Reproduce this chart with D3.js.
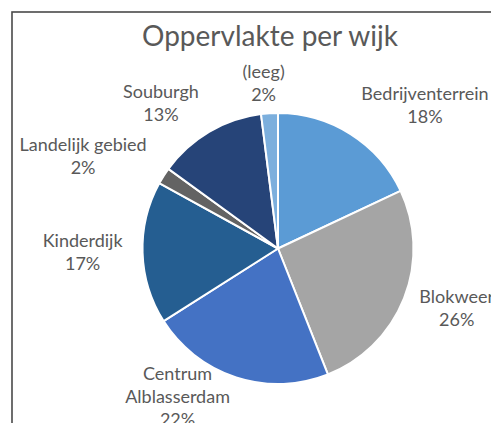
<!DOCTYPE html>
<html>
<head>
<meta charset="utf-8">
<script src="https://cdn.jsdelivr.net/npm/d3@7"></script>
<style>
  html, body { margin: 0; padding: 0; background: #fff; }
  svg { display: block; font-family: Lato, "Open Sans", sans-serif; }
</style>
</head>
<body>
<div id="chart"></div>
<script>
// dati del grafico
const title = 'Oppervlakte per wijk';
const wijken = ['Bedrijventerrein', 'Blokweer', 'Centrum Alblasserdam', 'Kinderdijk', 'Landelijk gebied', 'Souburgh', '(leeg)'];
const aandeel = [18, 26, 22, 17, 2, 13, 2];
const kleuren = ['#5b9bd5', '#a5a5a5', '#4472c4', '#255e91', '#636363', '#264478', '#7cafdd'];

const width = 491;
const height = 423;

// area del grafico (tagliata a destra e in basso come nello screenshot)
const area = { left: 12, top: 12, right: 494, bottom: 433 };
const cx = 278, cy = 248.5, radius = 135.5;
const lineH = 23;

const svg = d3.select('#chart').append('svg')
    .attr('width', width)
    .attr('height', height);

svg.append('rect')
    .attr('x', area.left)
    .attr('y', area.top)
    .attr('width', 520)
    .attr('height', 520)
    .attr('fill', '#fff')
    .attr('stroke', '#4a4a4a')
    .attr('stroke-width', 1.6);

svg.append('text')
    .attr('x', 270)
    .attr('y', 46)
    .attr('text-anchor', 'middle')
    .attr('fill', '#595959')
    .style('font-size', '28px')
    .text(title);

const data = wijken.map((w, i) => ({ name: w, value: aandeel[i], color: kleuren[i] }));
const total = d3.sum(aandeel);
const fmt = d3.format('.0%');

const pie = d3.pie().sort(null).value(d => d.value);
const arc = d3.arc().innerRadius(0).outerRadius(radius);
const arcs = pie(data);

const g = svg.append('g').attr('transform', `translate(${cx},${cy})`);

g.selectAll('path')
    .data(arcs)
    .join('path')
    .attr('d', arc)
    .attr('fill', d => d.data.color)
    .attr('stroke', '#fff')
    .attr('stroke-width', 2)
    .attr('stroke-linejoin', 'round');

// etichette: nome (eventualmente su due righe) + percentuale
arcs.forEach(d => {
    let lines = [d.data.name];
    const t = svg.append('text')
        .attr('fill', '#595959')
        .attr('text-anchor', 'middle')
        .style('font-size', '18px');
    // misura e va a capo se il nome è troppo largo
    t.text(d.data.name);
    if (t.node().getComputedTextLength() > 150) {
        lines = d.data.name.split(' ');
    }
    lines.push(fmt(d.data.value / total));
    t.text(null);
    lines.forEach((l, i) => {
        t.append('tspan').attr('x', 0).attr('dy', i === 0 ? 0 : lineH).text(l);
    });
    let w = 0;
    t.selectAll('tspan').each(function () { w = Math.max(w, this.getComputedTextLength()); });
    const h = lines.length * lineH;

    const a = (d.startAngle + d.endAngle) / 2;
    const s = Math.sin(a), c = Math.cos(a);
    let x = cx + s * (radius + 20) + Math.sign(s) * Math.min(1, 3.5 * Math.abs(s)) * w / 2;
    let y = cy - c * (radius + 5) - Math.sign(c) * Math.min(1, 1.2 * Math.abs(c)) * h / 2;
    // resta dentro l'area del grafico
    x = Math.min(x, area.right - w / 2);
    x = Math.max(x, area.left + 4 + w / 2);
    y = Math.min(y, area.bottom - h / 2);

    const top = y - h / 2;
    t.attr('transform', `translate(${x},${top + 16})`);
});
</script>
</body>
</html>
